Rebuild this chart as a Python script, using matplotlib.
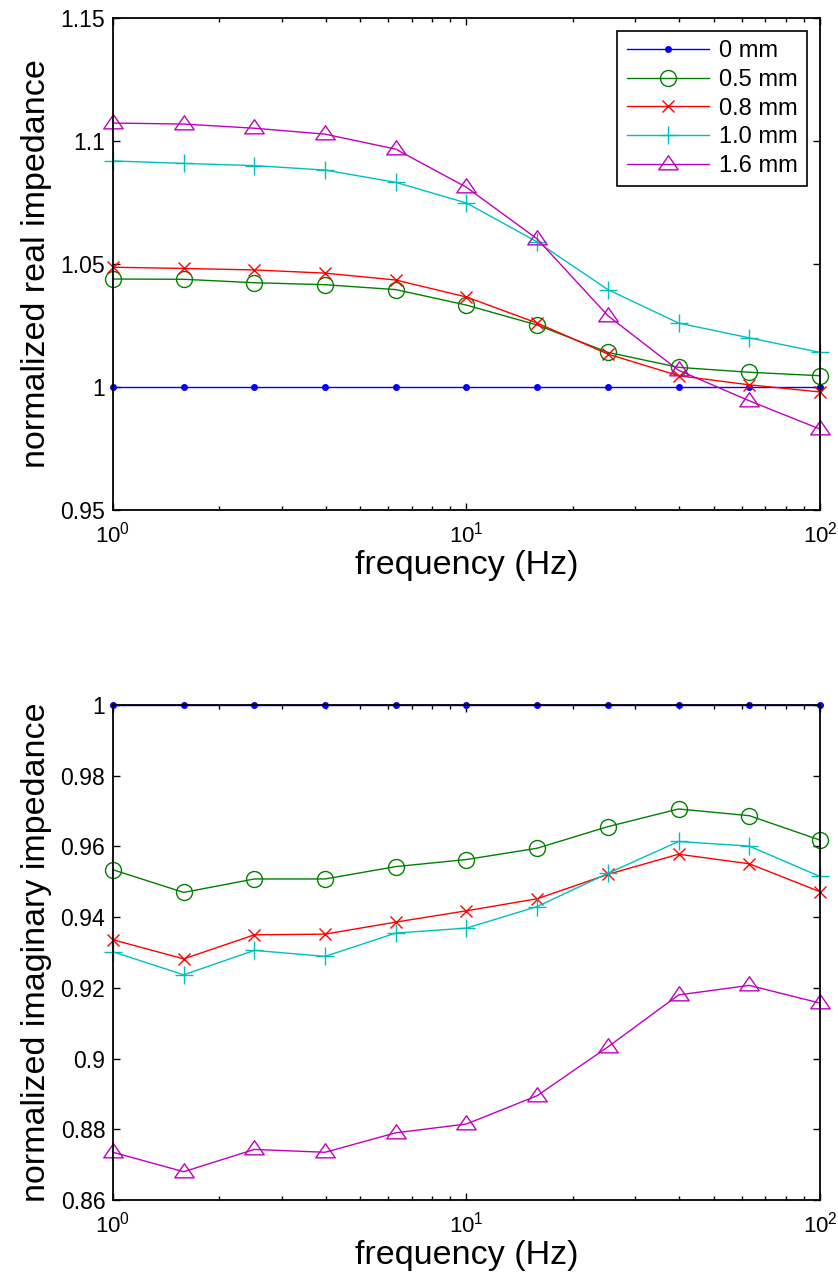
import numpy as np
import matplotlib
matplotlib.use("Agg")
import matplotlib.pyplot as plt
from matplotlib.path import Path
from matplotlib.ticker import FixedLocator, FormatStrFormatter, LogLocator, NullFormatter

plt.rcParams['font.family'] = ['Liberation Sans', 'DejaVu Sans']
plt.rcParams['mathtext.default'] = 'regular'

freq = [1, 1.585, 2.512, 3.981, 6.310, 10, 15.85, 25.12, 39.81, 63.10, 100]
labels = ['0 mm', '0.5 mm', '0.8 mm', '1.0 mm', '1.6 mm']

real_0 = [1.0] * 11
real_05 = [1.0439, 1.0438, 1.0424, 1.0416, 1.0396, 1.0333, 1.0252, 1.0141, 1.0080, 1.0060, 1.0046]
real_08 = [1.0487, 1.0482, 1.0476, 1.0463, 1.0435, 1.0366, 1.0260, 1.0134, 1.0046, 1.0009, 0.9980]
real_10 = [1.0919, 1.0909, 1.0900, 1.0882, 1.0832, 1.0748, 1.0590, 1.0396, 1.0260, 1.0200, 1.0141]
real_16 = [1.1073, 1.1069, 1.1052, 1.1028, 1.0967, 1.0812, 1.0602, 1.0290, 1.0068, 0.9944, 0.9829]

imag_0 = [1.0] * 11
imag_05 = [0.9534, 0.9470, 0.9508, 0.9508, 0.9543, 0.9563, 0.9595, 0.9656, 0.9706, 0.9687, 0.9618]
imag_08 = [0.9336, 0.9282, 0.9350, 0.9352, 0.9386, 0.9418, 0.9452, 0.9521, 0.9578, 0.9551, 0.9472]
imag_10 = [0.9302, 0.9237, 0.9306, 0.9289, 0.9355, 0.9369, 0.9430, 0.9524, 0.9614, 0.9601, 0.9515]
imag_16 = [0.8735, 0.8680, 0.8743, 0.8735, 0.8790, 0.8815, 0.8895, 0.9033, 0.9180, 0.9207, 0.9157]

tri = Path([(-1, -0.55), (1, -0.55), (0, 0.9), (-1, -0.55)],
           [Path.MOVETO, Path.LINETO, Path.LINETO, Path.CLOSEPOLY])

colors = [(0, 0, 1), (0, 0.5, 0), (1, 0, 0), (0, 0.75, 0.75), (0.75, 0, 0.75)]
markers = ['.', 'o', 'x', '+', tri]
msizes = [8, 11.5, 9, 13, 14]
fills = ['full', 'none', 'none', 'none', 'none']

fig = plt.figure(figsize=(8.38, 12.87), dpi=100)
ax1 = fig.add_axes([0.1348, 0.6037, 0.8437, 0.3823])
ax2 = fig.add_axes([0.1348, 0.0676, 0.8437, 0.3846])

def draw(ax, series, ylim, yticks, ylabel, legend=False):
    for s, c, m, ms, fs, lab in zip(series, colors, markers, msizes, fills, labels):
        ax.plot(freq, s, color=c, marker=m, markersize=ms, fillstyle=fs,
                markeredgewidth=1.0, linewidth=1.0, label=lab, clip_on=False)
    ax.set_xscale('log')
    ax.set_xlim(1, 100)
    ax.set_ylim(*ylim)
    ax.yaxis.set_major_locator(FixedLocator(yticks))
    ax.yaxis.set_major_formatter(FormatStrFormatter('%g'))
    ax.xaxis.set_major_locator(LogLocator(base=10, numticks=5))
    ax.xaxis.set_minor_locator(LogLocator(base=10, subs=np.arange(2, 10), numticks=10))
    ax.xaxis.set_minor_formatter(NullFormatter())
    ax.tick_params(which='both', direction='in', top=True, right=True, width=1)
    ax.tick_params(axis='y', labelsize=16.6, pad=5.5)
    ax.tick_params(axis='x', labelsize=16, pad=8)
    ax.tick_params(which='major', length=5)
    ax.tick_params(which='minor', length=3)
    for sp in ax.spines.values():
        sp.set_linewidth(1.3)
    ax.set_xlabel('frequency (Hz)', fontsize=24.5, labelpad=2)
    ax.set_ylabel(ylabel, fontsize=24.5, labelpad=6)
    if legend:
        leg = ax.legend(loc='upper right', fontsize=17, fancybox=False, framealpha=1,
                        edgecolor='black', handlelength=3.5, borderaxespad=0.55,
                        labelspacing=0.28, handletextpad=0.4, borderpad=0.4)
        leg.get_frame().set_linewidth(1.2)

draw(ax1, [real_0, real_05, real_08, real_10, real_16], (0.95, 1.15),
     [0.95, 1.0, 1.05, 1.1, 1.15], 'normalized real impedance', legend=True)
draw(ax2, [imag_0, imag_05, imag_08, imag_10, imag_16], (0.86, 1.0),
     [0.86, 0.88, 0.9, 0.92, 0.94, 0.96, 0.98, 1.0], 'normalized imaginary impedance')

fig.savefig('out.png', dpi=100)
